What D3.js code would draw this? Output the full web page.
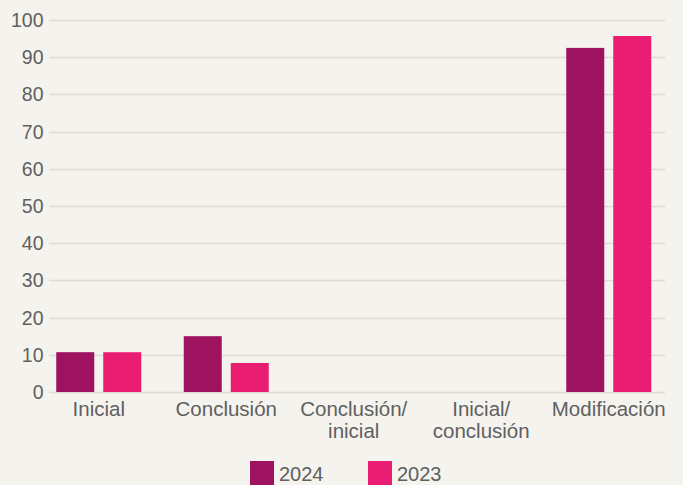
<!DOCTYPE html>
<html lang="es">
<head>
<meta charset="UTF-8">
<script src="https://cdn.jsdelivr.net/npm/d3@7"></script>
<style>
  html, body { margin: 0; padding: 0; background: #f5f3ee; }
  svg { display: block; font-family: "Liberation Sans", Arial, sans-serif; }
</style>
</head>
<body>
<div id="root"></div>
<script>
var width = 683
var height = 485

// data
var categories = ['Inicial', 'Conclusión', 'Conclusión/\ninicial', 'Inicial/\nconclusión', 'Modificación']
var seriesNames = ['2024', '2023']
var values2024 = [10.7, 15.0, 0, 0, 92.5]
var values2023 = [10.7, 7.8, 0, 0, 95.7]
var yTicks = [0, 10, 20, 30, 40, 50, 60, 70, 80, 90, 100]
var colors = ['#9d1360', '#e91e73']

var rows = categories.map(function(c, i) {
    return { cat: c, vals: [values2024[i], values2023[i]] }
})

var svg = d3.select('#root').append('svg')
    .attr('width', width)
    .attr('height', height)

var y = d3.scaleLinear().domain([0, 100]).range([392, 20])

var x = d3.scaleBand().domain(categories).range([35, 672.5]).paddingInner(0).paddingOuter(0)

var x1 = d3.scaleBand().domain(seriesNames).range([-42.5, 42.5]).paddingInner(0.1915)

// gridlines
svg.append('g').selectAll('line')
    .data(yTicks)
    .enter().append('line')
        .attr('x1', 49).attr('x2', 665)
        .attr('y1', function(d) { return Math.round(y(d)) + 0.5 })
        .attr('y2', function(d) { return Math.round(y(d)) + 0.5 })
        .attr('stroke', '#dedcd7')
        .attr('stroke-width', 1.5)

// y labels
svg.append('g').selectAll('text')
    .data(yTicks)
    .enter().append('text')
        .attr('x', 43.5)
        .attr('y', function(d) { return y(d) + 7 })
        .attr('text-anchor', 'end')
        .attr('font-size', 19.5)
        .attr('fill', '#606060')
        .text(function(d) { return d })

// bars
var groups = svg.append('g').selectAll('g')
    .data(rows)
    .enter().append('g')
        .attr('transform', function(d) { return 'translate(' + (x(d.cat) + x.bandwidth() / 2) + ',0)' })

groups.selectAll('rect')
    .data(function(d) { return d.vals.map(function(v, i) { return { s: seriesNames[i], v: v, i: i } }) })
    .enter().append('rect')
        .filter(function(d) { return d.v > 0 })
        .attr('x', function(d) { return x1(d.s) })
        .attr('width', x1.bandwidth())
        .attr('y', function(d) { return y(d.v) })
        .attr('height', function(d) { return y(0) - y(d.v) })
        .attr('fill', function(d) { return colors[d.i] })

// x labels
var xl = svg.append('g').selectAll('text')
    .data(categories)
    .enter().append('text')
        .attr('x', function(d) { return x(d) + x.bandwidth() / 2 })
        .attr('y', 416)
        .attr('text-anchor', 'middle')
        .attr('font-size', 20.5)
        .attr('fill', '#606060')

xl.selectAll('tspan')
    .data(function(d) { return d.split('\n') })
    .enter().append('tspan')
        .attr('x', function() { var p = d3.select(this.parentNode).datum(); return x(p) + x.bandwidth() / 2 })
        .attr('dy', function(d, i) { return i ? 21.5 : 0 })
        .text(function(d) { return d })

// legend
var legX = d3.scaleOrdinal().domain(seriesNames).range([250, 368])
var leg = svg.append('g').selectAll('g')
    .data(seriesNames)
    .enter().append('g')
        .attr('transform', function(d) { return 'translate(' + legX(d) + ',461)' })

leg.append('rect')
    .attr('width', 24).attr('height', 24)
    .attr('fill', function(d, i) { return colors[i] })

leg.append('text')
    .attr('x', 29).attr('y', 20)
    .attr('font-size', 20)
    .attr('fill', '#606060')
    .text(function(d) { return d })
</script>
</body>
</html>
